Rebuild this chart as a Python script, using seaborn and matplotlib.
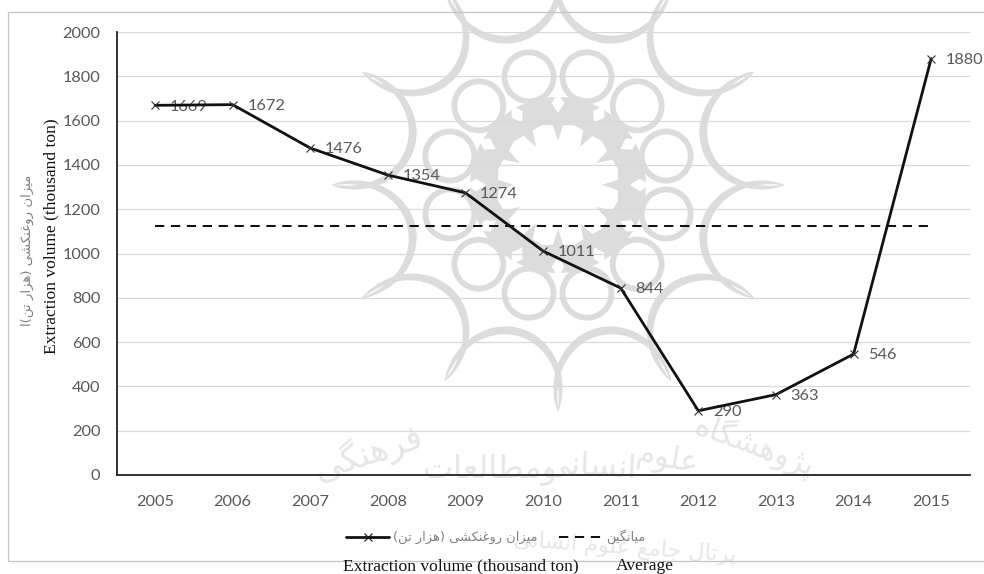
import numpy as np
import pandas as pd
import seaborn as sns
from matplotlib import pyplot as plt
from matplotlib.lines import Line2D
from matplotlib.patches import Circle, Polygon
from matplotlib.transforms import IdentityTransform

years = ['2005', '2006', '2007', '2008', '2009', '2010', '2011', '2012', '2013', '2014', '2015']
volume = [1669, 1672, 1476, 1354, 1274, 1011, 844, 290, 363, 546, 1880]
average = [1125, 1125, 1125, 1125, 1125, 1125, 1125, 1125, 1125, 1125, 1125]
yticks = [0, 200, 400, 600, 800, 1000, 1200, 1400, 1600, 1800, 2000]

# first code of the isolated/final/initial/medial forms, and how many forms
FORMS = {'ا': (0xFE8D, 2), 'ت': (0xFE95, 4), 'ج': (0xFE9D, 4), 'ر': (0xFEAD, 2), 'ز': (0xFEAF, 2),
         'س': (0xFEB1, 4), 'ش': (0xFEB5, 4), 'ط': (0xFEC1, 4), 'ع': (0xFEC9, 4), 'غ': (0xFECD, 4),
         'ف': (0xFED1, 4), 'ل': (0xFEDD, 4), 'م': (0xFEE1, 4), 'ن': (0xFEE5, 4), 'ه': (0xFEE9, 4),
         'و': (0xFEED, 2), 'پ': (0xFB56, 4), 'ژ': (0xFB8A, 2), 'ک': (0xFB8E, 4), 'گ': (0xFB92, 4),
         'ی': (0xFBFC, 4)}


def fa(text):
    # matplotlib does no arabic shaping, so pick the forms and reverse by hand
    out = []
    for i, c in enumerate(text):
        if c not in FORMS:
            out.append({'(': ')', ')': '('}.get(c, c))
            continue
        start, n = FORMS[c]
        prev = text[i-1] if i > 0 else ' '
        nxt = text[i+1] if i < len(text)-1 else ' '
        join_prev = prev in FORMS and FORMS[prev][1] == 4
        join_next = nxt in FORMS and n == 4
        if n == 2:
            k = 1 if join_prev else 0
        else:
            k = {(False, False): 0, (True, False): 1, (False, True): 2, (True, True): 3}[(join_prev, join_next)]
        out.append(chr(start+k))
    return ''.join(out[::-1])


sns.set_theme(style='white')
plt.rcParams['font.family'] = ['Lato', 'DejaVu Sans']
W, H = 984, 574
fig = plt.figure(figsize=(W/100, H/100), dpi=100, facecolor='white')
ax = fig.add_axes([117/W, 1-475/H, 853/W, 443/H], facecolor='none')
ax.set_zorder(5)

# watermark rosette, drawn in pixels behind the axes
wm = '#dcdcdc'
cx, cy = 558, 185
t = IdentityTransform()


def pol(r, deg):
    a = np.radians(deg)
    return np.array([cx+r*np.cos(a), H-(cy-r*np.sin(a))])


def blob(points, color=wm, z=0.6):
    fig.add_artist(Polygon(points, facecolor=color, edgecolor='none', transform=t, zorder=z))


def scallop(a):
    # half ellipse between the spike tips at angles a and a+30, tapered to sharp tips
    mid = np.radians(a+15)
    rad_dir = np.array([np.cos(mid), np.sin(mid)])
    tan_dir = np.array([-np.sin(mid), np.cos(mid)])
    c = pol(218.3, a+15)
    phi = np.linspace(0, np.pi, 70)
    w = 0.3+3.7*np.sin(phi)**0.7
    pts = []
    for sign in (1, -1):
        x = (58.5+sign*w)*np.cos(phi)
        y = -(66+sign*w)*np.sin(phi)
        pts.append(c+x[:, None]*tan_dir+y[:, None]*rad_dir)
    blob(np.r_[pts[0], pts[1][::-1]])


fig.add_artist(Circle(pol(0, 0), 88, facecolor=wm, edgecolor='none', transform=t, zorder=0.1))
for k in range(12):
    a = 30*k
    scallop(a)
    fig.add_artist(Circle(pol(112, a+15), 24.5, facecolor='white', edgecolor=wm, lw=4.2, transform=t, zorder=0.5))
    blob([pol(92, a), pol(82, a+4.5), pol(72, a), pol(82, a-4.5)], 'white', 0.7)
star = []
for k in range(12):
    a = 30*k
    star += [pol(44, a), pol(60, a+5), pol(62, a+15), pol(60, a+25)]
blob(star, 'white', 0.7)

# watermark text
wm_text = '#e6e6e6'
wm_kw = dict(family='DejaVu Sans', color=wm_text, ha='center', va='center', zorder=0)
fig.text(368/W, 1-452/H, fa('فرهنگی'), fontsize=25, rotation=18, **wm_kw)
fig.text(490/W, 1-469/H, fa('ومطالعات'), fontsize=23, **wm_kw)
fig.text(590/W, 1-467/H, fa('انسانی'), fontsize=23, rotation=-3, **wm_kw)
fig.text(668/W, 1-459/H, fa('علوم'), fontsize=22, rotation=-10, **wm_kw)
fig.text(755/W, 1-446/H, fa('پژوهشگاه'), fontsize=22, rotation=-20, **wm_kw)
fig.text(625/W, 1-547/H, fa('پرتال جامع علوم انسانی'), fontsize=16, rotation=-4, **wm_kw)

df = pd.DataFrame({'year': years, 'volume': volume, 'average': average})
sns.lineplot(data=df, x='year', y='volume', color='#111111', lw=2.0, marker='x', markersize=5.5,
             markeredgewidth=0.8, markeredgecolor='#333333', ax=ax, legend=False, zorder=4)
sns.lineplot(data=df, x='year', y='average', color='#111111', lw=1.45, ax=ax, legend=False, zorder=3,
             linestyle=(0, (4.6, 3.3)))

ax.set_xlim(-0.49, 10.5)
ax.set_ylim(0, 2000)
ax.set_yticks(yticks)
ax.set_xlabel('')
ax.set_ylabel('')
ax.grid(axis='y', color='#d9d9d9', lw=0.9)
ax.set_axisbelow(True)
ax.tick_params(length=0, labelsize=11.8, labelcolor='#595959')
ax.tick_params(axis='y', pad=12)
ax.tick_params(axis='x', pad=14.7)
for s in ['top', 'right']:
    ax.spines[s].set_visible(False)
for s in ['left', 'bottom']:
    ax.spines[s].set_color('#222222')
    ax.spines[s].set_linewidth(1.3)

for i, v in enumerate(volume):
    ax.annotate(str(v), (i, v), xytext=(10.5, -1), textcoords='offset points', va='center', ha='left',
                fontsize=11.8, color='#595959', zorder=2)

handles = [Line2D([], [], color='#111111', lw=2.0, marker='x', markersize=5.5, markeredgewidth=0.8),
           Line2D([], [], color='#111111', lw=1.45, linestyle=(0, (4.6, 3.3)))]
labels = [fa('میزان روغنکشی (هزار تن)'), fa('میانگین')]
fig.legend(handles, labels, ncols=2, loc='center', bbox_to_anchor=(496/W, 1-537/H), frameon=False,
           labelcolor='#808080', handlelength=3.3, handletextpad=0.3, columnspacing=1.65,
           prop={'family': 'DejaVu Sans', 'size': 9.4})

# caption text pasted over the chart in the source
serif = 'Liberation Serif'
fig.text(343/W, 1-566/H, 'Extraction volume (thousand ton)', family=serif, fontsize=12.6, color='#111111', va='center')
fig.text(616/W, 1-566/H, 'Average', family=serif, fontsize=12.6, color='#111111', va='center')
fig.text(51/W, 1-236/H, 'Extraction volume (thousand ton)', family=serif, fontsize=12.6, color='#111111',
         rotation=90, ha='center', va='center')
fig.text(27/W, 1-250/H, fa('میزان روغنکشی (هزار تن)ا'), family='DejaVu Sans', fontsize=9.5, color='#808080',
         rotation=90, ha='center', va='center')

# outer frame of the pasted image
frame = '#c4c4c4'
fig.add_artist(Line2D([8/W, 8/W, 1], [1-561/H, 1-12/H, 1-12/H], color=frame, lw=0.9))
fig.add_artist(Line2D([8/W, 1], [1-561/H, 1-561/H], color=frame, lw=0.9))

plt.savefig('out.png', dpi=100)
